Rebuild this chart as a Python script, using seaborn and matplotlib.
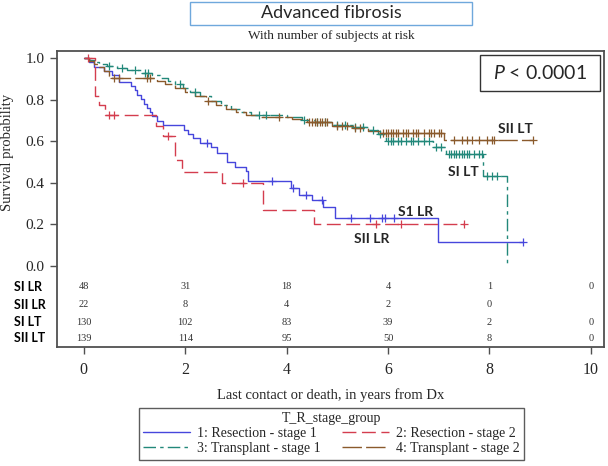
import numpy as np
import pandas as pd
import matplotlib
matplotlib.use("Agg")
import matplotlib.pyplot as plt
import seaborn as sns
from matplotlib.patches import Rectangle
from matplotlib.lines import Line2D

# ---------------- data ----------------
# Kaplan-Meier step points (time in years, survival after step)
si_lr_t = [0, 0.1, 0.2, 0.4, 0.55, 0.7, 0.92, 1.0, 1.05, 1.12, 1.18, 1.25, 1.3, 1.35, 1.45, 1.56,
           1.97, 2.05, 2.15, 2.3, 2.5, 2.62, 2.82, 2.98, 3.2, 3.23, 4.08, 4.25, 4.5, 4.72, 4.95, 6.98, 8.66]
si_lr_s = [1.0, 0.979, 0.958, 0.938, 0.917, 0.886, 0.865, 0.844, 0.823, 0.802, 0.781, 0.76, 0.74, 0.719, 0.698, 0.677,
           0.656, 0.635, 0.614, 0.593, 0.57, 0.545, 0.50, 0.477, 0.455, 0.41, 0.375, 0.34, 0.315, 0.285, 0.23, 0.115, 0.115]
si_lr_c = [2.42, 3.71, 4.13, 4.39, 4.69, 5.27, 5.65, 5.88, 5.94, 6.12, 8.66]

sii_lr_t = [0, 0.22, 0.3, 0.42, 1.43, 1.56, 1.8, 1.93, 2.72, 3.53, 4.54, 7.5]
sii_lr_s = [1.0, 0.818, 0.773, 0.727, 0.675, 0.623, 0.51, 0.453, 0.40, 0.27, 0.20, 0.20]
sii_lr_c = [0.08, 0.5, 0.6, 1.66, 3.14, 5.76, 6.25, 7.5]

si_lt_t = [0, 0.1, 0.2, 0.3, 0.45, 0.65, 0.85, 1.15, 1.35, 1.5, 1.65, 1.8, 1.95, 2.1, 2.3, 2.5, 2.7, 2.9,
           3.1, 3.3, 4.0, 4.3, 4.55, 4.9, 5.3, 5.6, 5.8, 5.95, 6.88, 7.15, 7.87, 8.34]
si_lt_s = [1.0, 0.99, 0.98, 0.97, 0.96, 0.95, 0.94, 0.93, 0.92, 0.905, 0.89, 0.875, 0.855, 0.835, 0.815, 0.795, 0.775, 0.755,
           0.74, 0.725, 0.715, 0.70, 0.69, 0.68, 0.67, 0.655, 0.635, 0.60, 0.57, 0.54, 0.43, 0.0]
si_lt_c = [0.5, 0.75, 1.0, 1.2, 1.27, 1.9, 2.2, 3.45, 3.6, 4.35, 4.6, 4.75, 5.0, 5.15, 5.35, 5.5, 5.7, 5.85,
           6.0, 6.05, 6.1, 6.2, 6.25, 6.35, 6.45, 6.5, 6.6, 6.7, 6.8, 6.95, 7.05, 7.2, 7.25, 7.3, 7.35, 7.4,
           7.45, 7.5, 7.55, 7.6, 7.7, 7.8, 7.85, 7.95, 8.05, 8.15]

sii_lt_t = [0, 0.1, 0.2, 0.3, 0.4, 0.5, 0.55, 1.45, 1.6, 1.8, 2.0, 2.2, 2.4, 2.6, 2.8, 3.0, 3.2, 3.5,
            4.1, 4.4, 4.9, 5.3, 5.6, 5.85, 7.1, 8.86]
sii_lt_s = [1.0, 0.985, 0.97, 0.955, 0.935, 0.915, 0.905, 0.89, 0.875, 0.855, 0.835, 0.815, 0.795, 0.775, 0.755, 0.74, 0.725, 0.715,
            0.705, 0.69, 0.675, 0.665, 0.65, 0.64, 0.605, 0.605]
sii_lt_c = [0.6, 0.7, 1.25, 1.3, 2.45, 3.85, 4.45, 4.5, 4.55, 4.6, 4.65, 4.7, 4.75, 4.8, 5.0, 5.1, 5.2, 5.35, 5.45,
            5.9, 5.95, 6.0, 6.05, 6.1, 6.15, 6.2, 6.3, 6.35, 6.4, 6.5, 6.55, 6.6, 6.7, 6.8, 6.85, 6.9, 7.0, 7.05,
            7.3, 7.45, 7.55, 7.65, 7.8, 7.95, 8.05, 8.1, 8.86]

# number at risk table
risk_times = [0, 2, 4, 6, 8, 10]
risk_labels = ["SI LR", "SII LR", "SI LT", "SII LT"]
risk_si_lr = [48, 31, 18, 4, 1, 0]
risk_sii_lr = [22, 8, 4, 2, 0, None]
risk_si_lt = [130, 102, 83, 39, 2, 0]
risk_sii_lt = [139, 114, 95, 50, 8, 0]

legend_labels = ["1: Resection - stage 1", "2: Resection - stage 2",
                 "3: Transplant - stage 1", "4: Transplant - stage 2"]
curve_labels = ["S1 LR", "SII LR", "SI LT", "SII LT"]

# ---------------- style ----------------
sns.set_style("ticks")
plt.rcParams["font.family"] = ["Liberation Serif", "DejaVu Serif"]
plt.rcParams["lines.scale_dashes"] = False
plt.rcParams["mathtext.fontset"] = "custom"
plt.rcParams["mathtext.rm"] = "Lato"
plt.rcParams["mathtext.it"] = "Lato:italic"

C_BLUE = "#4646dc"
C_RED = "#d43d4e"
C_TEAL = "#22887a"
C_BROWN = "#8a5a2c"
EDGE = "#505050"

W, H = 608, 466
fig = plt.figure(figsize=(W / 100, H / 100), dpi=100)
ax_l, ax_r, ax_t, ax_b = 57, 604, 50.7, 347
ax = fig.add_axes([ax_l / W, 1 - ax_b / H, (ax_r - ax_l) / W, (ax_b - ax_t) / H])

groups = [
    (si_lr_t, si_lr_s, si_lr_c, C_BLUE, "-"),
    (sii_lr_t, sii_lr_s, sii_lr_c, C_RED, (0, (10, 4))),
    (si_lt_t, si_lt_s, si_lt_c, C_TEAL, (0, (9, 3, 2.5, 3))),
    (sii_lt_t, sii_lt_s, sii_lt_c, C_BROWN, (0, (14, 3))),
]

handles = []
for (t, s, c, col, ls), lab in zip(groups, legend_labels):
    df = pd.DataFrame({"time": t, "surv": s})
    sns.lineplot(data=df, x="time", y="surv", ax=ax, drawstyle="steps-post", estimator=None,
                 sort=False, color=col, linewidth=1.0, linestyle=ls, legend=False)
    ta = np.asarray(t)
    sa = np.asarray(s)
    idx = np.searchsorted(ta, np.asarray(c), side="right") - 1
    cdf = pd.DataFrame({"time": c, "surv": sa[idx]})
    sns.scatterplot(data=cdf, x="time", y="surv", ax=ax, marker="+", s=36, color=col,
                    linewidth=0.9, legend=False, zorder=3)
    handles.append(Line2D([0], [0], color=col, lw=1.0, linestyle=ls))

ax.set_xlim(-0.53, 10.26)
ax.set_ylim(-0.39, 1.035)
ax.set_xticks(risk_times)
ax.set_xticklabels([str(v) for v in risk_times], fontsize=11.5)
ax.set_yticks([0, 0.2, 0.4, 0.6, 0.8, 1.0])
ax.set_yticklabels(["0.0", "0.2", "0.4", "0.6", "0.8", "1.0"], fontsize=11)
ax.tick_params(direction="out", length=5, width=1, color=EDGE, pad=4)
ax.tick_params(axis="x", pad=6)
ax.set_xlabel("")
ax.set_ylabel("Survival probability", fontsize=10.5)
ax.yaxis.set_label_coords(-0.078, 0.658)
for sp in ax.spines.values():
    sp.set_color(EDGE)
    sp.set_linewidth(1.3)
    sp.set_visible(True)

# at-risk table inside the frame
row_y = [-0.10, -0.187, -0.27, -0.348]
for vals, y in zip([risk_si_lr, risk_sii_lr, risk_si_lt, risk_sii_lt], row_y):
    for tx, v in zip(risk_times, vals):
        if v is not None:
            ax.text(tx, y, str(v), ha="center", va="center", fontsize=7.5, color="#333333")
for lab, y in zip(risk_labels, row_y):
    ax.text(-0.53 - 43 / 50.7, y, lab, ha="left", va="center", fontsize=9, fontweight="bold",
            family="Lato", color="black")

# curve labels
ax.text(8.52, 0.66, curve_labels[3], ha="center", va="center", fontsize=10, fontweight="bold", family="Lato")
ax.text(7.48, 0.45, curve_labels[2], ha="center", va="center", fontsize=10, fontweight="bold", family="Lato")
ax.text(6.55, 0.26, curve_labels[0], ha="center", va="center", fontsize=10, fontweight="bold", family="Lato")
ax.text(5.68, 0.13, curve_labels[1], ha="center", va="center", fontsize=10, fontweight="bold", family="Lato")

# P-value box
ax.add_patch(Rectangle((0.773, 0.864), 0.220, 0.121, transform=ax.transAxes, fill=False,
                       edgecolor="#333333", linewidth=1.0, zorder=4))
ax.text(0.883, 0.925, "$P$ < 0.0001", transform=ax.transAxes, ha="center", va="center",
        fontsize=14, family="Lato", zorder=5)

# title box and subtitle
fig.patches.append(Rectangle((190 / W, 1 - 25 / H), 282 / W, 23 / H, transform=fig.transFigure,
                             fill=False, edgecolor="#6fa8dc", linewidth=1.0))
fig.text(331 / W, 1 - 13.5 / H, "Advanced fibrosis", ha="center", va="center", fontsize=13, family="Lato")
fig.text(331 / W, 1 - 36 / H, "With number of subjects at risk", ha="center", va="center", fontsize=9.5)

# x label
fig.text(331 / W, 1 - 395 / H, "Last contact or death, in years from Dx", ha="center", va="center", fontsize=10.5)

# legend (row-wise order: 1 2 / 3 4)
order = [0, 2, 1, 3]
leg = fig.legend([handles[i] for i in order], [legend_labels[i] for i in order],
                 title="T_R_stage_group", ncol=2, loc="upper left",
                 bbox_to_anchor=(139 / W, 1 - 408 / H), bbox_transform=fig.transFigure,
                 borderaxespad=0.0, fontsize=10, title_fontsize=10, frameon=True, fancybox=False,
                 handlelength=3.4, handletextpad=0.5, columnspacing=1.5, borderpad=0.3,
                 labelspacing=0.15, edgecolor="#333333")
leg.get_frame().set_linewidth(1.0)

fig.savefig("out.png", dpi=100)
